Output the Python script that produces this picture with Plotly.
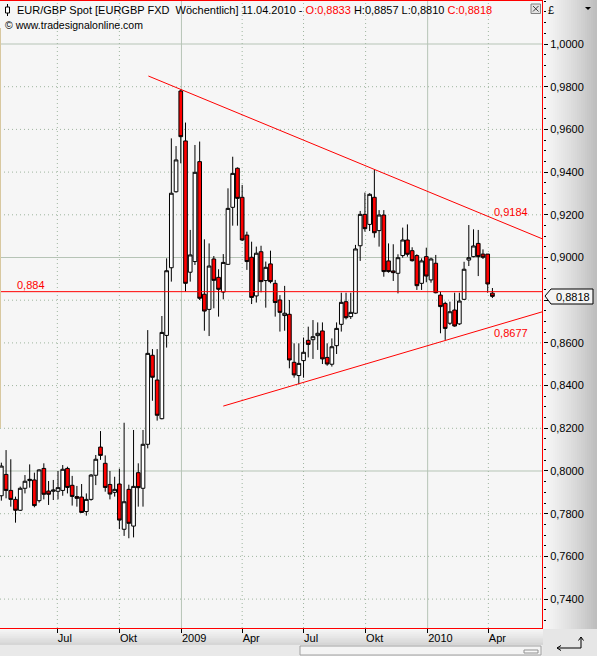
import plotly.graph_objects as go
import pandas as pd

# ---------------- data ----------------
first_week = "2008-04-09"
n_weeks = 105
dates = pd.date_range(first_week, periods=n_weeks, freq="7D")

opens = [0.7884, 0.7984, 0.7909, 0.7867, 0.7816, 0.7919, 0.7955, 0.7958, 0.7861, 0.8012,
         0.7906, 0.7905, 0.7905, 0.7909, 0.8012, 0.7933, 0.7880, 0.7878, 0.7810, 0.7867,
         0.7980, 0.8112, 0.8036, 0.7937, 0.7900, 0.7939, 0.7727, 0.7914, 0.7742, 0.7992,
         0.7919, 0.8125, 0.8542, 0.8426, 0.8245, 0.8635, 0.8952, 0.9308, 0.9780, 0.9546,
         0.8931, 0.8981, 0.9449, 0.8828, 0.8757, 0.8993, 0.8907, 0.8838, 0.8968, 0.9235,
         0.9418, 0.9282, 0.9105, 0.9001, 0.8820, 0.9027, 0.8892, 0.8970, 0.8879, 0.8801,
         0.8728, 0.8734, 0.8509, 0.8447, 0.8517, 0.8612, 0.8615, 0.8634, 0.8656, 0.8532,
         0.8500, 0.8587, 0.8687, 0.8793, 0.8723, 0.8739, 0.9055, 0.9202, 0.9155, 0.9282,
         0.9126, 0.9199, 0.8984, 0.8937, 0.8926, 0.9009, 0.9082, 0.9032, 0.9009, 0.8879,
         0.9004, 0.8895, 0.8973, 0.8824, 0.8785, 0.8692, 0.8754, 0.8689, 0.8804, 0.8988,
         0.9004, 0.9066, 0.9016, 0.9016, 0.8833]
highs = [0.8039, 0.8098, 0.8055, 0.7880, 0.7927, 0.7981, 0.8031, 0.7992, 0.8008, 0.8036,
         0.7953, 0.7958, 0.8000, 0.8028, 0.8020, 0.7977, 0.7930, 0.7939, 0.7895, 0.7986,
         0.8075, 0.8187, 0.8073, 0.8000, 0.7973, 0.8011, 0.8226, 0.7936, 0.8192, 0.8036,
         0.8192, 0.8660, 0.8571, 0.8571, 0.8726, 0.8996, 0.9558, 0.9522, 0.9788, 0.9632,
         0.9129, 0.9527, 0.9543, 0.9085, 0.9066, 0.9007, 0.8945, 0.9016, 0.9324, 0.9472,
         0.9422, 0.9340, 0.9121, 0.9074, 0.9051, 0.9055, 0.8981, 0.9032, 0.8895, 0.8824,
         0.8867, 0.8801, 0.8598, 0.8598, 0.8625, 0.8676, 0.8707, 0.8696, 0.8696, 0.8598,
         0.8621, 0.8696, 0.8835, 0.8835, 0.8835, 0.9059, 0.9218, 0.9304, 0.9301, 0.9410,
         0.9222, 0.9222, 0.9066, 0.9062, 0.9015, 0.9140, 0.9155, 0.9048, 0.9015, 0.8996,
         0.9046, 0.8999, 0.9012, 0.8840, 0.8793, 0.8793, 0.8835, 0.8835, 0.8980, 0.9152,
         0.9132, 0.9129, 0.9038, 0.9016, 0.8857]
lows = [0.7861, 0.7872, 0.7833, 0.7758, 0.7813, 0.7895, 0.7922, 0.7830, 0.7852, 0.7867,
        0.7841, 0.7864, 0.7867, 0.7884, 0.7895, 0.7838, 0.7833, 0.7803, 0.7791, 0.7861,
        0.7934, 0.8052, 0.7903, 0.7867, 0.7880, 0.7728, 0.7696, 0.7685, 0.7689, 0.7833,
        0.7833, 0.8106, 0.8329, 0.8236, 0.8242, 0.8578, 0.8887, 0.9304, 0.9441, 0.8840,
        0.8887, 0.8965, 0.8801, 0.8657, 0.8632, 0.8762, 0.8723, 0.8804, 0.8965, 0.9149,
        0.9149, 0.9077, 0.8942, 0.8782, 0.8789, 0.8837, 0.8765, 0.8879, 0.8723, 0.8653,
        0.8657, 0.8481, 0.8437, 0.8406, 0.8437, 0.8532, 0.8525, 0.8567, 0.8501, 0.8493,
        0.8489, 0.8548, 0.8653, 0.8710, 0.8712, 0.8735, 0.8984, 0.9121, 0.9124, 0.9093,
        0.9051, 0.8910, 0.8929, 0.8890, 0.8832, 0.8999, 0.9004, 0.8981, 0.8848, 0.8848,
        0.8884, 0.8882, 0.8832, 0.8645, 0.8614, 0.8684, 0.8676, 0.8684, 0.8801, 0.8960,
        0.9001, 0.8913, 0.8993, 0.8835, 0.8810]
closes = [0.8023, 0.7909, 0.7867, 0.7816, 0.7919, 0.7952, 0.7961, 0.7838, 0.8005, 0.7891,
          0.7891, 0.7911, 0.7922, 0.8008, 0.7923, 0.7881, 0.7872, 0.7806, 0.7867, 0.7981,
          0.8055, 0.8073, 0.7923, 0.7892, 0.7914, 0.7770, 0.7856, 0.7755, 0.7928, 0.7922,
          0.8125, 0.8551, 0.8439, 0.8261, 0.8649, 0.8938, 0.9301, 0.9457, 0.9566, 0.8879,
          0.9012, 0.9399, 0.8809, 0.8749, 0.8960, 0.8893, 0.8851, 0.8977, 0.9230, 0.9394,
          0.9277, 0.9082, 0.8981, 0.8813, 0.9020, 0.8887, 0.8954, 0.8887, 0.8789, 0.8743,
          0.8739, 0.8520, 0.8450, 0.8504, 0.8556, 0.8593, 0.8629, 0.8645, 0.8525, 0.8501,
          0.8582, 0.8668, 0.8790, 0.8718, 0.8743, 0.9040, 0.9202, 0.9135, 0.9296, 0.9116,
          0.9199, 0.8934, 0.8934, 0.8929, 0.8999, 0.9082, 0.9015, 0.8985, 0.8868, 0.8984,
          0.8913, 0.8993, 0.8835, 0.8770, 0.8668, 0.8746, 0.8679, 0.8796, 0.8945, 0.8999,
          0.9054, 0.9004, 0.9001, 0.8876, 0.8818]

# trend lines and horizontal level
upper_x = ["2008-11-13", "2010-07-01"]
upper_y = [0.9850, 0.9073]
lower_x = ["2009-03-04", "2010-07-01"]
lower_y = [0.8304, 0.8756]
level = 0.884
upper_label = "0,9184"
lower_label = "0,8677"
level_label = "0,884"
last_label = "0,8818"

# axes
x_range = ["2008-04-07", "2010-06-21"]
y_range = [0.72646, 1.02014]
x_tick_vals = ["2008-07-01", "2008-10-01", "2009-01-01", "2009-04-01",
               "2009-07-01", "2009-10-01", "2010-01-01", "2010-04-01"]
x_tick_text = ["Jul", "Okt", "2009", "Apr", "Jul", "Okt", "2010", "Apr"]
x_solid = ["2009-01-01", "2010-01-01"]
y_tick_vals = [0.74, 0.76, 0.78, 0.80, 0.82, 0.84, 0.86, 0.88, 0.90, 0.92, 0.94, 0.96, 0.98, 1.00]
# the 0,8800 label is hidden behind the last-price marker in the reference
y_tick_text = ["0,7400", "0,7600", "0,7800", "0,8000", "0,8200", "0,8400", "0,8600",
               "", "0,9000", "0,9200", "0,9400", "0,9600", "0,9800", "1,0000"]
y_solid = [0.80, 0.90, 1.00]

header_main = "EUR/GBP Spot [EURGBP FXD\u00a0 Wöchentlich] 11.04.2010 - "
header_o = "O:0,8833"
header_hl = " H:0,8857 L:0,8810 "
header_c = "C:0,8818"
copyright_text = "\u00a9 www.tradesignalonline.com"

# ---------------- layout geometry helpers ----------------
W, H = 597, 656
PL, PR, PT, PB = 0, 543, 1, 628   # plot area pixel box


def px(x):
    return (x - PL) / (PR - PL)


def py(y):
    return (PB - y) / (PB - PT)


FONT = "Liberation Sans, Arial, sans-serif"
RED = "#ff0000"
DOT = "#9fb59f"
SOLID = "#b6c4b6"

fig = go.Figure()

fig.add_trace(go.Candlestick(
    x=dates, open=opens, high=highs, low=lows, close=closes,
    increasing=dict(line=dict(color="black", width=1), fillcolor="white"),
    decreasing=dict(line=dict(color="black", width=1), fillcolor=RED),
    whiskerwidth=0, showlegend=False, hoverinfo="skip",
))

fig.add_trace(go.Scatter(x=upper_x, y=upper_y, mode="lines",
                         line=dict(color=RED, width=1), showlegend=False, hoverinfo="skip"))
fig.add_trace(go.Scatter(x=lower_x, y=lower_y, mode="lines",
                         line=dict(color=RED, width=1), showlegend=False, hoverinfo="skip"))

shapes = []

# outside gradient areas (right axis column, bottom band)
n_str = 27
for i in range(n_str):
    x0 = PR + i * (W - PR) / n_str
    x1 = PR + (i + 1) * (W - PR) / n_str + 0.5
    c = int(246 - (246 - 190) * (i / (n_str - 1)) ** 1.3)
    shapes.append(dict(type="rect", xref="paper", yref="paper", x0=px(x0), x1=px(x1),
                       y0=py(H), y1=py(0), fillcolor=f"rgb({c},{c},{c})",
                       line=dict(width=0), layer="below"))
n_b = 9
for i in range(n_b):
    y0 = PB + i * 17 / n_b
    y1 = PB + (i + 1) * 17 / n_b + 0.3
    c = int(248 - (248 - 214) * (i / (n_b - 1)))
    shapes.append(dict(type="rect", xref="paper", yref="paper", x0=px(0), x1=px(PR),
                       y0=py(y1), y1=py(y0), fillcolor=f"rgb({c},{c},{c})",
                       line=dict(width=0), layer="below"))
# scrollbar track + thumb
shapes.append(dict(type="rect", xref="paper", yref="paper", x0=px(0), x1=px(PR),
                   y0=py(H), y1=py(645), fillcolor="#e9e9e9", line=dict(width=0), layer="below"))
shapes.append(dict(type="rect", xref="paper", yref="paper", x0=px(300), x1=px(541),
                   y0=py(655), y1=py(646), fillcolor="#f4f4f4",
                   line=dict(color="#a0a0a0", width=1), layer="below"))
shapes.append(dict(type="rect", xref="paper", yref="paper", x0=px(524), x1=px(538),
                   y0=py(653), y1=py(650), fillcolor="#f8f8f8",
                   line=dict(color="#909090", width=1), layer="below"))
# bottom-right corner box
shapes.append(dict(type="rect", xref="paper", yref="paper", x0=px(PR), x1=px(W),
                   y0=py(H), y1=py(629), fillcolor="#e6e6e6", line=dict(width=0), layer="below"))

# grid lines
for v in y_tick_vals:
    solid = v in y_solid
    shapes.append(dict(type="line", xref="paper", yref="y", x0=0, x1=1, y0=v, y1=v,
                       line=dict(color=SOLID if solid else DOT, width=1,
                                 dash="solid" if solid else "1px,3px"), layer="below"))
for v in x_tick_vals:
    solid = v in x_solid
    shapes.append(dict(type="line", xref="x", yref="paper", x0=v, x1=v, y0=0, y1=1,
                       line=dict(color=SOLID if solid else DOT, width=1,
                                 dash="solid" if solid else "1px,3px"), layer="below"))

# horizontal level line
shapes.append(dict(type="line", xref="paper", yref="y", x0=0, x1=1, y0=level, y1=level,
                   line=dict(color=RED, width=1), layer="above"))

# red frame: top, right, bottom
shapes.append(dict(type="line", xref="paper", yref="paper", x0=px(0), x1=px(PR),
                   y0=py(0.5), y1=py(0.5), line=dict(color=RED, width=1)))
shapes.append(dict(type="line", xref="paper", yref="paper", x0=px(542.5), x1=px(542.5),
                   y0=py(0), y1=py(628.5), line=dict(color=RED, width=1)))
shapes.append(dict(type="line", xref="paper", yref="paper", x0=px(0), x1=px(PR),
                   y0=py(628.5), y1=py(628.5), line=dict(color=RED, width=1)))
# tan left edge
shapes.append(dict(type="line", xref="paper", yref="paper", x0=px(0.5), x1=px(0.5),
                   y0=py(28), y1=py(428), line=dict(color="#d8c8a0", width=1)))

# small candle icon in header
shapes.append(dict(type="line", xref="paper", yref="paper", x0=px(7.5), x1=px(7.5),
                   y0=py(16), y1=py(4), line=dict(color="black", width=1)))
shapes.append(dict(type="rect", xref="paper", yref="paper", x0=px(5.5), x1=px(9.5),
                   y0=py(13), y1=py(7), fillcolor="white", line=dict(color="black", width=1)))

# close button
shapes.append(dict(type="rect", xref="paper", yref="paper", x0=px(531), x1=px(540.5),
                   y0=py(13.5), y1=py(4), fillcolor="#e2e2e2", line=dict(color="#808080", width=1)))
shapes.append(dict(type="line", xref="paper", yref="paper", x0=px(533), x1=px(538.5),
                   y0=py(6), y1=py(11.5), line=dict(color="#404040", width=1)))
shapes.append(dict(type="line", xref="paper", yref="paper", x0=px(533), x1=px(538.5),
                   y0=py(11.5), y1=py(6), line=dict(color="#404040", width=1)))

# dropdown triangle at top right
shapes.append(dict(type="path", xref="paper", yref="paper",
                   path=f"M {px(585)},{py(7)} L {px(591)},{py(7)} L {px(588)},{py(10)} Z",
                   fillcolor="black", line=dict(width=0)))

# last-price marker on the axis
shapes.append(dict(type="path", xref="paper", yref="paper",
                   path=(f"M {px(545)},{py(296)} L {px(551)},{py(289)} L {px(593)},{py(289)} "
                         f"L {px(593)},{py(304)} L {px(551)},{py(304)} Z"),
                   fillcolor="#f4f4f4", line=dict(color="black", width=1)))

# corner arrow icon
for (xa, ya, xb, yb) in [(557, 648, 581, 648), (581, 648, 581, 637),
                         (557, 648, 561, 645.5), (557, 648, 561, 650.5),
                         (581, 637, 578.5, 640.5), (581, 637, 583.5, 640.5)]:
    shapes.append(dict(type="line", xref="paper", yref="paper", x0=px(xa), x1=px(xb),
                       y0=py(ya), y1=py(yb), line=dict(color="black", width=1)))

annotations = [
    dict(xref="paper", yref="paper", x=px(15), y=py(10), xanchor="left", yanchor="middle",
         text=(header_main + f"<span style='color:{RED}'>{header_o}</span>" + header_hl +
               f"<span style='color:{RED}'>{header_c}</span>"),
         showarrow=False, font=dict(family=FONT, size=11, color="black")),
    dict(xref="paper", yref="paper", x=px(3), y=py(25), xanchor="left", yanchor="middle",
         text=copyright_text, showarrow=False, font=dict(family=FONT, size=10.5, color="black")),
    dict(xref="paper", yref="paper", x=px(15), y=py(285), xanchor="left", yanchor="middle",
         text=level_label, showarrow=False, font=dict(family=FONT, size=11, color=RED)),
    dict(xref="paper", yref="paper", x=px(492), y=py(212), xanchor="left", yanchor="middle",
         text=upper_label, showarrow=False, font=dict(family=FONT, size=11, color=RED)),
    dict(xref="paper", yref="paper", x=px(492), y=py(333), xanchor="left", yanchor="middle",
         text=lower_label, showarrow=False, font=dict(family=FONT, size=11, color=RED)),
    dict(xref="paper", yref="paper", x=px(554), y=py(296.5), xanchor="left", yanchor="middle",
         text=last_label, showarrow=False, font=dict(family=FONT, size=11, color="black")),
    dict(xref="paper", yref="paper", x=px(546), y=py(10), xanchor="left", yanchor="middle",
         text="\u00a3", showarrow=False, font=dict(family=FONT, size=11, color="black")),
]

minor_vals = [round(0.725 + 0.005 * i, 3) for i in range(60)]
minor_vals = [v for v in minor_vals if all(abs(v - t) > 1e-6 for t in y_tick_vals)]

fig.update_layout(
    width=W, height=H,
    margin=dict(l=PL, r=W - PR, t=PT, b=H - PB, pad=0, autoexpand=False),
    paper_bgcolor="#f2f2f2", plot_bgcolor="#f6f6f6",
    showlegend=False, boxgap=0.22, boxgroupgap=0,
    shapes=shapes, annotations=annotations,
    xaxis=dict(type="date", range=x_range, rangeslider=dict(visible=False),
               tickvals=x_tick_vals, ticktext=x_tick_text, ticks="outside", ticklen=4,
               tickcolor="black", ticklabelposition="outside right",
               tickfont=dict(family=FONT, size=11, color="black"),
               showgrid=False, zeroline=False, showline=False, fixedrange=True),
    yaxis=dict(side="right", range=y_range, tickvals=y_tick_vals, ticktext=y_tick_text,
               ticks="outside", ticklen=4, tickcolor="black",
               tickfont=dict(family=FONT, size=11, color="black"),
               showgrid=False, zeroline=False, showline=False, fixedrange=True,
               minor=dict(tickmode="array", tickvals=minor_vals, ticks="outside",
                          ticklen=2, tickcolor="black", showgrid=False)),
)

page_fix = ("document.body.style.margin='0';document.body.style.padding='0';"
            "document.body.style.overflow='hidden';"
            "document.documentElement.style.overflow='hidden';")

fig.write_html("out.html", config={"displayModeBar": False, "staticPlot": True},
               post_script=page_fix)
